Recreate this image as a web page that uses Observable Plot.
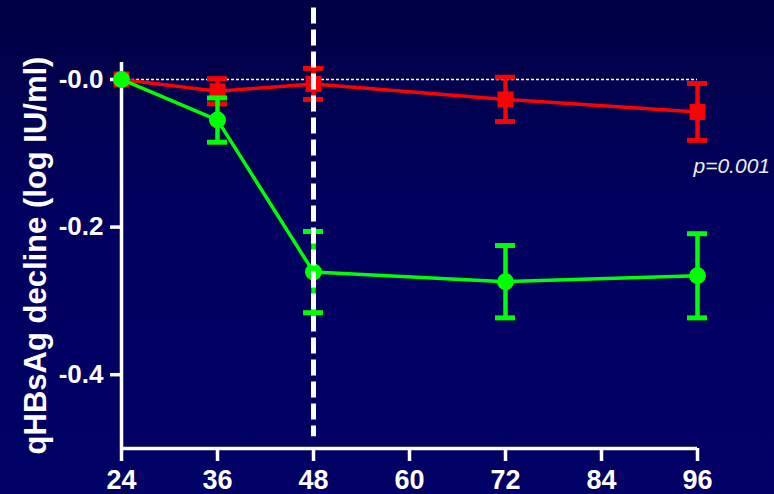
<!DOCTYPE html>
<html>
<head>
<meta charset="utf-8">
<script src="https://cdn.jsdelivr.net/npm/d3@7"></script>
<script src="https://cdn.jsdelivr.net/npm/@observablehq/plot@0.6"></script>
<style>
  html, body { margin: 0; padding: 0; }
  body { width: 774px; height: 494px; overflow: hidden;
         background: linear-gradient(to bottom, #000044 0%, #000060 45%, #000066 100%); }
  #chart svg { display: block; }
</style>
</head>
<body>
<div id="chart"></div>
<script>
// ---- data ----
const hours = [24, 36, 48, 72, 96];
const redMean = [0, -0.016, -0.006, -0.027, -0.044];
const redErr = [0, 0.017, 0.021, 0.030, 0.0385];
const greenMean = [0, -0.055, -0.261, -0.274, -0.266];
const greenErr = [0, 0.030, 0.055, 0.049, 0.057];
const xTicks = [24, 36, 48, 60, 72, 84, 96];
const yTicks = [0, -0.2, -0.4];
const yTickLabels = ["-0.0", "-0.2", "-0.4"];
const yLabel = "qHBsAg decline (log IU/ml)";
const cutoffHour = [48];
const annotation = [{x: 96, y: -0.1175, text: "p=0.001"}];

const red = "#ff0000";
const green = "#00ff00";
const capHalf = 1.25; // hours

const build = (means, errs) => hours.map((h, i) => ({x: h, y: means[i], lo: means[i] - errs[i], hi: means[i] + errs[i], e: errs[i]}));
const redData = build(redMean, redErr);
const greenData = build(greenMean, greenErr);

function series(data, color, symbol, r) {
  const withErr = data.filter(d => d.e > 0);
  return [
    Plot.ruleX(withErr, {x: "x", y1: "lo", y2: "hi", stroke: color, strokeWidth: 4.5}),
    Plot.ruleY(withErr, {y: "hi", x1: d => d.x - capHalf, x2: d => d.x + capHalf, stroke: color, strokeWidth: 5}),
    Plot.ruleY(withErr, {y: "lo", x1: d => d.x - capHalf, x2: d => d.x + capHalf, stroke: color, strokeWidth: 5}),
    Plot.line(data, {x: "x", y: "y", stroke: color, strokeWidth: 3.5}),
    Plot.dot(data, {x: "x", y: "y", symbol, r, fill: color, stroke: "none"})
  ];
}

const chart = Plot.plot({
  width: 774,
  height: 494,
  marginLeft: 121,
  marginRight: 77,
  marginTop: 62,
  marginBottom: 46,
  style: {background: "transparent", color: "white", fontFamily: "'Liberation Sans', Arial, sans-serif", overflow: "visible"},
  x: {domain: [24, 96], axis: null},
  y: {domain: [-0.5, 0.023], axis: null},
  marks: [
    Plot.ruleY([0], {x1: 24, x2: 96, stroke: "white", strokeWidth: 1.5, strokeDasharray: "3,2"}),
    Plot.ruleX([24], {y1: -0.5, y2: 0.023, stroke: "white", strokeWidth: 3.5}),
    Plot.ruleY([-0.5], {x1: 24, x2: 96, stroke: "white", strokeWidth: 3.5}),
    Plot.axisX({ticks: xTicks, tickSize: 13, tickPadding: 8, tickFormat: d => String(d), fontSize: 27, fontWeight: "bold", stroke: "white", strokeWidth: 3.5, label: null}),
    Plot.axisY({ticks: yTicks, tickSize: 11, tickPadding: 7, tickFormat: d => yTickLabels[yTicks.findIndex(t => Math.abs(t - d) < 1e-9)], fontSize: 26, fontWeight: "bold", stroke: "white", strokeWidth: 3.5, label: null}),
    Plot.text([yLabel], {frameAnchor: "left", dx: -85, rotate: -90, text: d => d, textAnchor: "middle", lineAnchor: "middle", fontSize: 31, fontWeight: "bold", fill: "white"}),
    ...series(redData, red, "square", 9),
    ...series(greenData, green, "circle", 8.5),
    Plot.ruleX(cutoffHour, {y1: 0.097, y2: -0.484, stroke: "white", strokeWidth: 5, strokeDasharray: "16,6"}),
    Plot.text(annotation, {x: "x", y: "y", text: "text", textAnchor: "start", dx: -4, fontSize: 21, fontStyle: "italic", fill: "#eeeeee"})
  ]
});
document.getElementById("chart").appendChild(chart);
</script>
</body>
</html>
